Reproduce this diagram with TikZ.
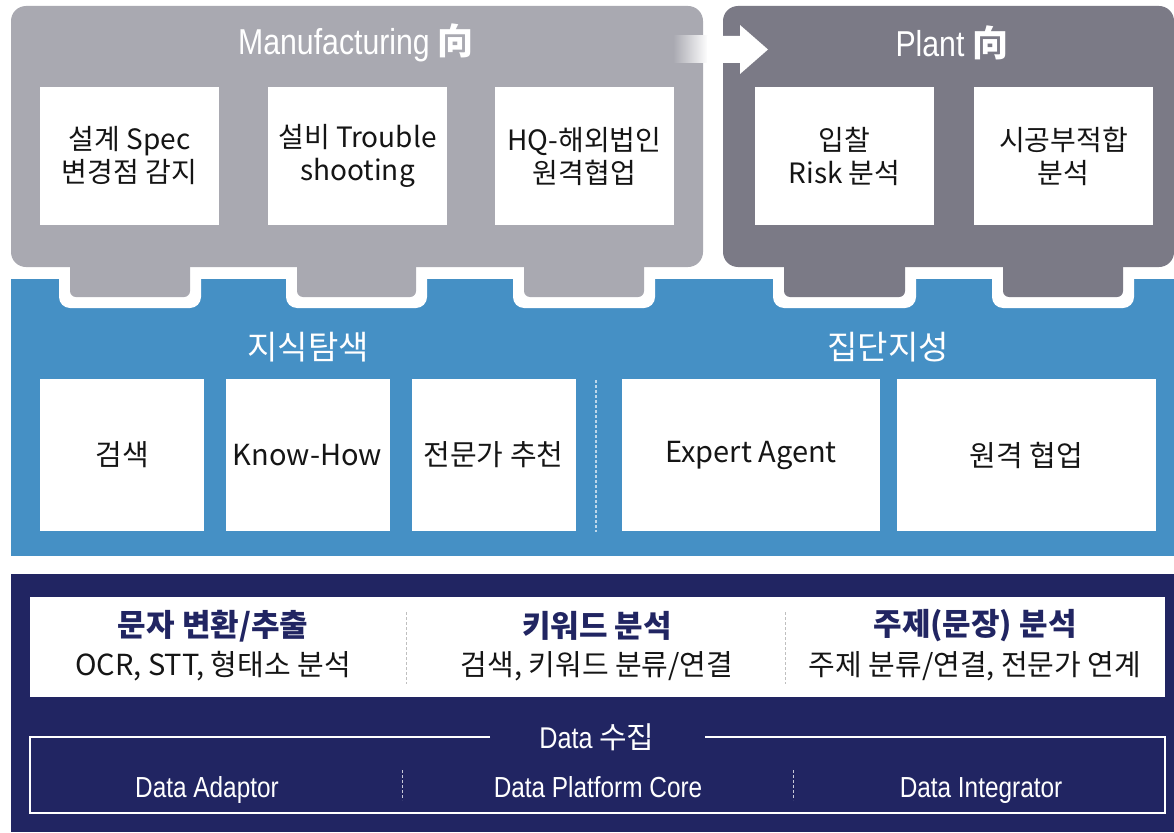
\documentclass[tikz,border=0pt]{standalone}
\usepackage{fontspec}
\setmainfont{Noto Sans CJK KR}
\newfontfamily\narrowfont[FakeStretch=0.84]{Liberation Sans}
\definecolor{mfgray}{HTML}{A9A9B1}
\definecolor{plgray}{HTML}{7B7A86}
\definecolor{kblue}{HTML}{4590C5}
\definecolor{navy}{HTML}{212562}
\definecolor{txt}{HTML}{151515}
\tikzset{
  wbox/.style={fill=white, text=txt, align=center, inner sep=0pt,
    font=\fontsize{28}{33}\selectfont},
  bbox/.style={wbox, minimum height=152pt, font=\fontsize{29}{33}\selectfont},
  paneltitle/.style={text=white, inner sep=0pt, font=\fontsize{36}{40}\selectfont},
  sectitle/.style={text=white, inner sep=0pt, font=\fontsize{33}{36}\selectfont},
  headbold/.style={text=navy, inner sep=0pt, font=\bfseries\fontsize{31}{34}\selectfont},
  subline/.style={text=txt, inner sep=0pt, font=\fontsize{29}{32}\selectfont},
  datalabel/.style={text=white, inner sep=0pt, anchor=base, font=\narrowfont\fontsize{29}{32}\selectfont},
  sep/.style={dash pattern=on 3pt off 2pt, line width=1.2pt}
}
\begin{document}
\begin{tikzpicture}[x=1pt,y=-1pt]
\useasboundingbox (0,0) rectangle (1174,832);
\fill[white] (0,0) rectangle (1174,832);
% blue band
\fill[kblue] (11,279) rectangle (1174,556);
% white outlines around tabs
\foreach \a/\b in {70/190,297/416,524/644,784/905,1003/1123}{
  \fill[white, rounded corners=11] (\a-11,268) rectangle (\b+11,308);
}
% panels
\fill[mfgray, rounded corners=15] (11,6) rectangle (703,267);
\fill[plgray, rounded corners=15] (723,6) rectangle (1174,267);
\foreach \a/\b in {70/190,297/416,524/644}{
  \fill[mfgray, rounded corners=6] (\a,250) rectangle (\b,297);
}
\foreach \a/\b in {784/905,1003/1123}{
  \fill[plgray, rounded corners=6] (\a,250) rectangle (\b,297);
}
% arrow
\shade[left color=mfgray, right color=white] (673,36) rectangle (708,63);
\fill[white] (707,36) -- (740,36) -- (740,25) -- (768,49.5) -- (740,74) -- (740,63) -- (707,63) -- cycle;
% titles
\node[paneltitle] (mtitle) at (356,43) {{\narrowfont Manufacturing} {\bfseries 向}};
\node[paneltitle] (ptitle) at (952,43) {{\narrowfont Plant} {\bfseries 向}};
% top boxes
\node[wbox, minimum width=179pt, minimum height=138pt] (m1) at (129.5,156) {설계 Spec\\변경점 감지};
\node[wbox, minimum width=179pt, minimum height=138pt] (m2) at (357.5,156) {설비 Trouble\\shooting};
\node[wbox, minimum width=179pt, minimum height=138pt] (m3) at (584.5,156) {HQ-해외법인\\원격협업};
\node[wbox, minimum width=179pt, minimum height=138pt] (p1) at (844.5,156) {입찰\\Risk 분석};
\node[wbox, minimum width=179pt, minimum height=138pt] (p2) at (1063.5,156) {시공부적합\\분석};
% blue section
\node[sectitle] (k1) at (308,347) {지식탐색};
\node[sectitle] (k2) at (888,347) {집단지성};
\node[bbox, minimum width=164pt] (b1) at (122,455) {검색};
\node[bbox, minimum width=164pt] (b2) at (307.5,455) {Know-How};
\node[bbox, minimum width=164pt] (b3) at (493.5,455) {전문가 추천};
\node[bbox, minimum width=258pt] (b4) at (751,455) {Expert Agent};
\node[bbox, minimum width=259pt] (b5) at (1026.5,455) {원격 협업};
\coordinate (bs1) at (596,380);
\coordinate (bs2) at (596,532);
\draw[sep, color=white!65!kblue] (bs1) -- (bs2);
% navy section
\fill[navy] (11,574) rectangle (1174,832);
\node[fill=white, minimum width=1135pt, minimum height=100pt, inner sep=0pt] (wb) at (597.5,647) {};
\node[headbold] (h1) at (213,626) {문자 변환/추출};
\node[headbold] (h2) at (597,626) {키워드 분석};
\node[headbold] (h3) at (975,626) {주제(문장) 분석};
\node[subline] (s1) at (213,666) {OCR, STT, 형태소 분석};
\node[subline] (s2) at (597,666) {검색, 키워드 분류/연결};
\node[subline] (s3) at (975,666) {주제 분류/연결, 전문가 연계};
\coordinate (ws1a) at (406,612);
\coordinate (ws1b) at (406,684);
\coordinate (ws2a) at (785,612);
\coordinate (ws2b) at (785,684);
\draw[sep, color=black!25, line width=1pt] (ws1a) -- (ws1b);
\draw[sep, color=black!25, line width=1pt] (ws2a) -- (ws2b);
% data frame
\node[text=white, inner sep=0pt, font=\fontsize{30}{34}\selectfont] (dt) at (597,737) {{\narrowfont Data} 수집};
\draw[white, line width=1.8pt] (490,737) -- (30,737) -- (30,813) -- (1165,813) -- (1165,737) -- (705,737);
\node[datalabel] (d1) at (207,797) {Data Adaptor};
\node[datalabel] (d2) at (598,797) {Data Platform Core};
\node[datalabel] (d3) at (981,797) {Data Integrator};
\coordinate (ds1a) at (402,770);
\coordinate (ds1b) at (402,800);
\coordinate (ds2a) at (793,770);
\coordinate (ds2b) at (793,800);
\draw[sep, color=white!75!navy, line width=1pt] (ds1a) -- (ds1b);
\draw[sep, color=white!75!navy, line width=1pt] (ds2a) -- (ds2b);
\end{tikzpicture}
\end{document}
